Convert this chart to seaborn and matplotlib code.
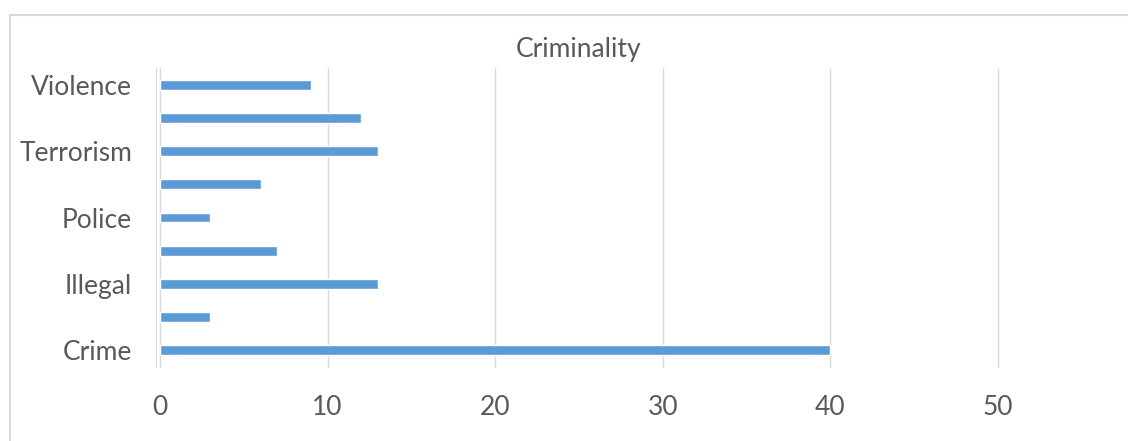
import pandas as pd
import seaborn as sns
import matplotlib.pyplot as plt
from matplotlib.patches import Rectangle

# categories bottom -> top; only every other label is printed in the source chart
categories = ["Crime", "cat2", "Illegal", "cat4", "Police", "cat6", "Terrorism", "cat8", "Violence"]
shown_labels = ["Crime", "", "Illegal", "", "Police", "", "Terrorism", "", "Violence"]
values = [40, 3, 13, 7, 3, 6, 13, 12, 9]

BAR = "#5B9BD5"
TEXT = "#595959"
GRID = "#D9D9D9"

sns.set_style("white")
plt.rcParams['font.family'] = ['Lato', 'DejaVu Sans']

df = pd.DataFrame({"category": categories, "value": values})
order = categories[::-1]  # top row first

fig = plt.figure(figsize=(11.28, 4.41), dpi=100)
ax = fig.add_axes([160 / 1128, 74 / 441, 838 / 1128, 299 / 441])

sns.barplot(data=df, x="value", y="category", order=order, orient="h",
            color=BAR, saturation=1, width=0.3, ax=ax)

ax.set_xlim(0, 50)
ax.set_xticks(range(0, 51, 10))
ax.xaxis.grid(True, color=GRID, linewidth=1)
for gl in ax.get_xgridlines():
    gl.set_clip_on(False)
ax.set_axisbelow(True)
ax.tick_params(axis="x", length=5, color=GRID, labelsize=19, labelcolor=TEXT, pad=15)

ax.set_yticks(range(len(order)))
ax.set_yticklabels(shown_labels[::-1])
ax.set_yticks([i - 0.5 for i in range(len(order) + 1)], minor=True)
ax.tick_params(axis="y", which="major", length=0, labelsize=19, labelcolor=TEXT, pad=17)
ax.tick_params(axis="y", which="minor", length=6, color=GRID, width=1)
ax.set_ylim(len(order) - 0.5, -0.5)

for side in ["top", "right", "bottom"]:
    ax.spines[side].set_visible(False)
ax.spines["left"].set_color(GRID)
ax.spines["left"].set_position(("outward", 3))

ax.set_xlabel("")
ax.set_ylabel("")
ax.set_title("Criminality", fontsize=19, color=TEXT, pad=8)

# outer chart border
fig.patches.append(Rectangle((10 / 1128, -0.05), 1.2, 1 - 15 / 441 + 0.05,
                             transform=fig.transFigure, fill=False,
                             edgecolor=GRID, linewidth=1.5))

fig.savefig("out.png", dpi=100)
